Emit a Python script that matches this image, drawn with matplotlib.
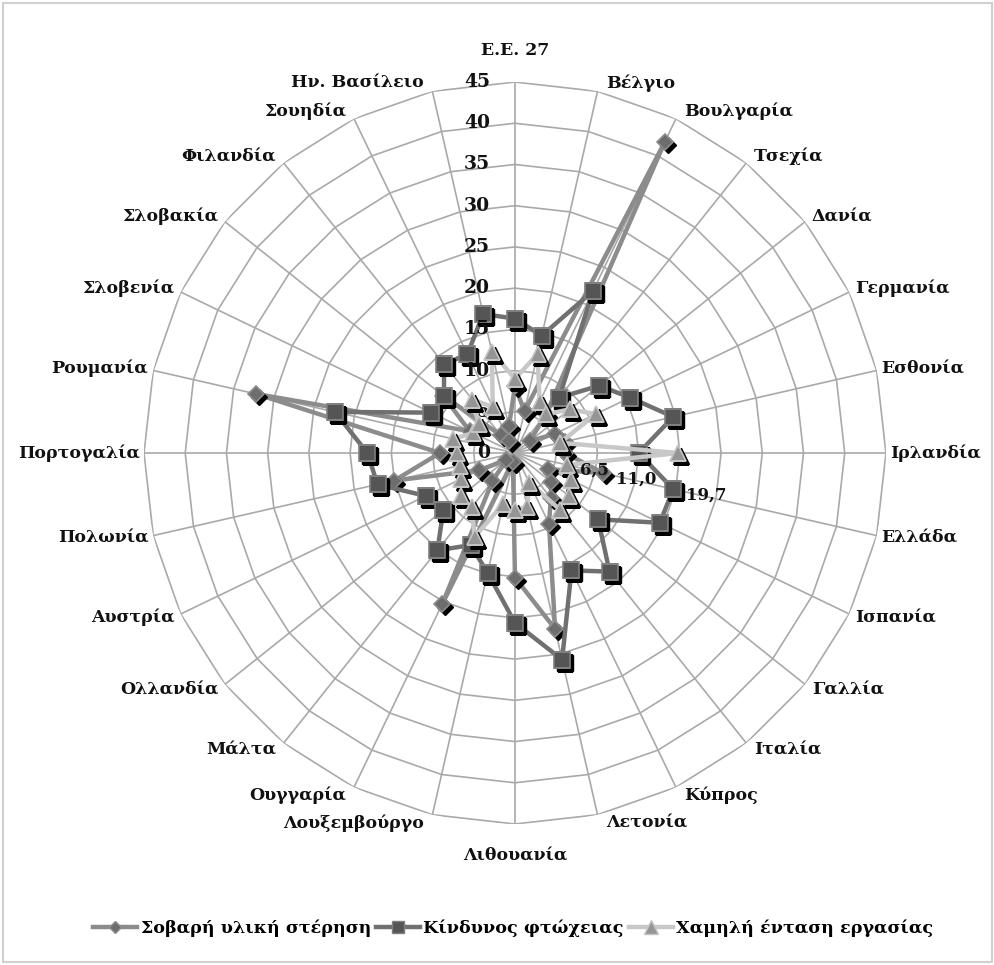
import numpy as np
import matplotlib
matplotlib.use("Agg")
import matplotlib.pyplot as plt
from matplotlib.transforms import offset_copy
from matplotlib.patches import Rectangle

# categories clockwise from the top
countries = ["Ε.Ε. 27", "Βέλγιο", "Βουλγαρία", "Τσεχία", "Δανία", "Γερμανία",
             "Εσθονία", "Ιρλανδία", "Ελλάδα", "Ισπανία", "Γαλλία", "Ιταλία",
             "Κύπρος", "Λετονία", "Λιθουανία", "Λουξεμβούργο", "Ουγγαρία",
             "Μάλτα", "Ολλανδία", "Αυστρία", "Πολωνία", "Πορτογαλία",
             "Ρουμανία", "Σλοβενία", "Σλοβακία", "Φιλανδία", "Σουηδία",
             "Ην. Βασίλειο"]

# Σοβαρή υλική στέρηση
deprivation = [8.1, 5.2, 41.9, 6.1, 2.3, 5.4, 6.2, 6.1, 11.0, 4.5, 5.6, 7.0,
               9.5, 21.9, 15.1, 1.1, 20.3, 4.4, 1.4, 4.8, 15.0, 9.1, 32.2,
               6.1, 11.1, 2.8, 1.6, 3.3]
# Κίνδυνος φτώχειας
poverty = [16.3, 14.6, 21.8, 8.6, 13.1, 15.5, 19.7, 15.0, 19.7, 19.5, 12.9,
           18.4, 15.8, 25.7, 20.6, 14.9, 12.4, 15.1, 11.1, 12.0, 17.1, 17.9,
           22.4, 11.3, 11.0, 13.8, 13.3, 17.3]
# Χαμηλή ένταση εργασίας
low_work = [9.0, 12.3, 6.9, 6.0, 8.5, 10.9, 5.6, 19.8, 6.5, 7.6, 8.4, 8.8,
            4.0, 6.7, 6.9, 6.3, 11.3, 8.4, 8.3, 7.2, 6.9, 7.0, 7.7, 5.6,
            5.6, 8.3, 6.2, 12.6]

series_names = ["Σοβαρή υλική στέρηση", "Κίνδυνος φτώχειας",
                "Χαμηλή ένταση εργασίας"]
ring_values = [0, 5, 10, 15, 20, 25, 30, 35, 40, 45]

# Greece gets data labels
greece_idx = countries.index("Ελλάδα")

FONT = "DejaVu Serif"

fig = plt.figure(figsize=(9.95, 9.65), dpi=100)
fig.patch.set_facecolor("white")
fig.patches.append(Rectangle((0.003, 0.003), 0.994, 0.994, transform=fig.transFigure,
                             fill=False, edgecolor="#d0d0d0", linewidth=1.5))

ax = fig.add_axes([0.1447, 0.1461, 0.7457, 0.7689], projection="polar")
ax.set_theta_zero_location("N")
ax.set_theta_direction(-1)
ax.set_ylim(0, 45)
ax.grid(False)
ax.set_xticks([])
ax.set_yticks([])
ax.spines["polar"].set_visible(False)

n = len(countries)
theta = np.linspace(0, 2 * np.pi, n, endpoint=False)
theta_closed = np.append(theta, theta[0])

# polygon grid and spokes
grid_col = "#a9a9a9"
for r in ring_values[1:]:
    ax.plot(theta_closed, [r] * (n + 1), color=grid_col, lw=1.2, zorder=1)
for t in theta:
    ax.plot([t, t], [0, 45], color=grid_col, lw=1.2, zorder=1)

# radial value labels along the top spoke
for r in ring_values:
    ax.annotate(str(r), xy=(0, r), xytext=(-18, 0), textcoords="offset points",
                ha="right", va="center", fontsize=13.5, fontweight="bold",
                family=FONT, color="#111111", zorder=6)

# category labels
for t, name in zip(theta, countries):
    s, c = np.sin(t), np.cos(t)
    if abs(s) < 0.05:
        ha = "center"
        off = (0, 23 * np.sign(c))
    else:
        ha = "left" if s > 0 else "right"
        off = ((3 + 3 * abs(c)) * np.sign(s), 6 * c)
    ax.annotate(name, xy=(t, 45), xytext=off, textcoords="offset points",
                ha=ha, va="center", fontsize=12.5, fontweight="bold",
                family=FONT, color="#111111", annotation_clip=False)

shadow = offset_copy(ax.transData, fig=fig, x=3, y=-3, units="dots")

styles = [
    dict(marker="D", ms=8, line="#8c8c8c", face="#6d6d6d", edge="#8c8c8c"),
    dict(marker="s", ms=11, line="#707070", face="#555555", edge="#808080"),
    dict(marker="^", ms=12, line="#c8c8c8", face="#959595", edge="#c4c4c4"),
]
handles = []
for k, (vals, st) in enumerate(zip([deprivation, poverty, low_work], styles)):
    v = np.append(vals, vals[0])
    z = 3 + 2 * k
    ax.plot(theta_closed, v, color=st["line"], lw=3.2, zorder=z, solid_joinstyle="round")
    ax.plot(theta, vals, ls="none", marker=st["marker"], ms=st["ms"],
            color="black", transform=shadow, zorder=z + 0.5)
    ax.plot(theta, vals, ls="none", marker=st["marker"], ms=st["ms"],
            markerfacecolor=st["face"], markeredgecolor=st["edge"],
            markeredgewidth=1.2, zorder=z + 0.6)
    h, = plt.plot([], [], color=st["line"], lw=3.2, marker=st["marker"],
                  ms=st["ms"] * 0.8, markerfacecolor=st["face"],
                  markeredgecolor=st["edge"])
    handles.append(h)

# data labels for Greece
tg = theta[greece_idx]
for vals in [low_work, deprivation, poverty]:
    val = vals[greece_idx]
    ax.annotate(f"{val:.1f}".replace(".", ","), xy=(tg, val), xytext=(9, -4),
                textcoords="offset points", ha="left", va="center",
                fontsize=12, fontweight="bold", family=FONT, color="#111111",
                zorder=12)

fig.legend(handles, series_names, loc="center", bbox_to_anchor=(0.516, 0.038),
           ncol=3, frameon=False, handlelength=2.5, handletextpad=0.2,
           columnspacing=0.3,
           prop=dict(family=FONT, weight="bold", size=12.6))

fig.savefig("out.png", dpi=100)
